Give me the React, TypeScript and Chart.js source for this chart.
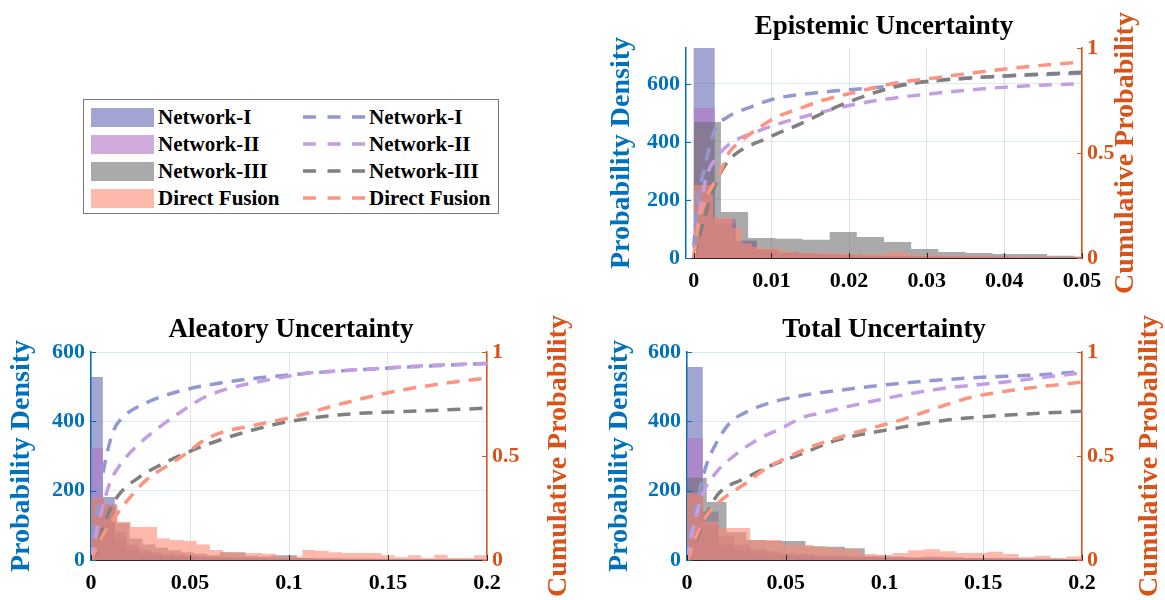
import React, { useEffect, useRef } from 'react';
import { Chart, registerables } from 'chart.js';

Chart.register(...registerables);

const SERIF = "'Liberation Serif', 'Times New Roman', Times, serif";
Chart.defaults.font.family = SERIF;
Chart.defaults.font.weight = 'bold' as any;

const AXIS_BLUE = 'rgb(0,114,189)';
const AXIS_ORANGE = 'rgb(217,83,25)';
const AXIS_BLACK = '#262626';

const seriesNames = ['Network-I', 'Network-II', 'Network-III', 'Direct Fusion'];
const histColors = [
  'rgba(100,105,180,0.6)',
  'rgba(177,117,197,0.6)',
  'rgba(113,113,113,0.6)',
  'rgba(255,138,117,0.6)',
];
const cdfColors = ['rgb(146,153,210)', 'rgb(196,158,226)', 'rgb(128,128,128)', 'rgb(252,148,128)'];

// ---------- Epistemic uncertainty ----------
const epiBinWidths = [0.0027, 0.0027, 0.0035, 0.00125];
const epiCountsN1 = [900, 120, 60, 28, 18, 14, 12, 10, 8, 7, 6, 5, 5, 4, 4, 3, 3, 2, 2];
const epiCountsN2 = [517, 135, 55, 30, 20, 16, 13, 11, 9, 8, 7, 6, 5, 5, 4, 3, 3, 2, 2];
const epiCountsN3 = [469, 159, 69, 66, 63, 90, 72, 55, 31, 21, 17, 14, 14, 8, 5];
const epiCountsDF = [252, 252, 138, 138, 103, 50, 38, 34, 32, 24, 20, 18, 17, 18, 16, 15, 14, 13, 14, 15, 21, 21, 12, 10, 10, 9, 8, 8, 7, 6, 6, 5, 5, 5, 4, 4, 4, 3, 3, 3];

const epiCdfXN1 = [0, 0.0004, 0.0014, 0.0027, 0.0043, 0.0074, 0.0106, 0.0166, 0.023, 0.03, 0.0368, 0.05];
const epiCdfYN1 = [0.05, 0.24, 0.43, 0.61, 0.67, 0.72, 0.76, 0.79, 0.81, 0.84, 0.86, 0.88];
const epiCdfXN2 = [0, 0.0003, 0.0015, 0.003, 0.0045, 0.008, 0.011, 0.0165, 0.0205, 0.0255, 0.03, 0.037, 0.043, 0.05];
const epiCdfYN2 = [0, 0.1, 0.37, 0.48, 0.54, 0.6, 0.64, 0.695, 0.73, 0.76, 0.78, 0.805, 0.82, 0.83];
const epiCdfXN3 = [0, 0.001, 0.002, 0.003, 0.004, 0.0052, 0.0094, 0.0138, 0.0178, 0.0219, 0.026, 0.03, 0.0368, 0.05];
const epiCdfYN3 = [0, 0.14, 0.27, 0.37, 0.44, 0.49, 0.57, 0.64, 0.71, 0.77, 0.815, 0.84, 0.86, 0.885];
const epiCdfXDF = [0, 0.00065, 0.0019, 0.0032, 0.0045, 0.0062, 0.0084, 0.0106, 0.0135, 0.0165, 0.0209, 0.0255, 0.0316, 0.039, 0.0488, 0.05];
const epiCdfYDF = [0, 0.17, 0.31, 0.39, 0.5, 0.56, 0.62, 0.67, 0.71, 0.75, 0.79, 0.83, 0.86, 0.895, 0.93, 0.932];

const epiXTicks = [0, 0.01, 0.02, 0.03, 0.04, 0.05];
const epiXTickLabels = ['0', '0.01', '0.02', '0.03', '0.04', '0.05'];

// ---------- Aleatory uncertainty ----------
const aleBinWidths = [0.006, 0.006, 0.0065, 0.00667];
const aleCountsN1 = [528, 182, 60, 30, 20, 15, 12, 10, 9, 8, 7, 6, 6, 5, 5, 5, 4, 4, 4, 3, 3, 3, 3, 3, 2, 2, 2, 2, 2, 2, 2, 2, 2, 2];
const aleCountsN2 = [323, 150, 80, 45, 30, 22, 18, 15, 12, 10, 9, 8, 7, 6, 6, 5, 5, 5, 4, 4, 4, 3, 3, 3, 3, 3, 2, 2, 2, 2, 2, 2, 2, 2];
const aleCountsN3 = [175, 160, 107, 62, 45, 35, 28, 22, 18, 14, 22, 22, 12, 10, 14, 14, 6, 5, 5, 5, 4, 4, 4, 3, 3, 3, 3, 2, 2, 2, 2];
const aleCountsDF = [178, 160, 110, 95, 95, 62, 58, 55, 45, 29, 22, 20, 20, 18, 10, 10, 29, 27, 22, 20, 20, 20, 14, 8, 14, 6, 15, 6, 6, 14];

const aleCdfXN1 = [0, 0.0015, 0.0055, 0.008, 0.0115, 0.0165, 0.0277, 0.044, 0.0645, 0.1, 0.145, 0.2];
const aleCdfYN1 = [0, 0.13, 0.385, 0.51, 0.625, 0.69, 0.755, 0.81, 0.85, 0.89, 0.92, 0.945];
const aleCdfXN2 = [0, 0.002, 0.0055, 0.0095, 0.0165, 0.0245, 0.0347, 0.0466, 0.0568, 0.068, 0.0947, 0.111, 0.136, 0.17, 0.2];
const aleCdfYN2 = [0, 0.1, 0.24, 0.37, 0.48, 0.56, 0.64, 0.72, 0.78, 0.82, 0.875, 0.9, 0.915, 0.935, 0.945];
const aleCdfXN3 = [0, 0.003, 0.006, 0.01, 0.0146, 0.0247, 0.0347, 0.0468, 0.06, 0.078, 0.0997, 0.128, 0.162, 0.2];
const aleCdfYN3 = [0, 0.05, 0.15, 0.25, 0.32, 0.4, 0.455, 0.51, 0.56, 0.615, 0.665, 0.7, 0.715, 0.73];
const aleCdfXDF = [0, 0.0015, 0.006, 0.013, 0.0196, 0.028, 0.038, 0.047, 0.057, 0.065, 0.081, 0.103, 0.128, 0.153, 0.179, 0.2];
const aleCdfYDF = [0, 0.03, 0.12, 0.22, 0.3, 0.385, 0.45, 0.505, 0.575, 0.61, 0.645, 0.69, 0.755, 0.81, 0.85, 0.875];

// ---------- Total uncertainty ----------
const totBinWidths = [0.008, 0.008, 0.01, 0.008];
const totCountsN1 = [557, 100, 45, 28, 20, 16, 13, 11, 10, 9, 8, 7, 7, 6, 6, 5, 5, 5, 4, 4, 4, 3, 3, 3, 3];
const totCountsN2 = [352, 140, 70, 45, 32, 25, 20, 17, 14, 12, 10, 9, 8, 7, 6, 6, 5, 5, 5, 4, 4, 4, 3, 3, 3];
const totCountsN3 = [237, 167, 80, 58, 55, 55, 40, 38, 34, 12, 10, 8, 10, 8, 6, 6, 5, 4, 4, 3];
const totCountsDF = [193, 110, 92, 92, 58, 58, 43, 43, 38, 34, 30, 17, 15, 20, 28, 31, 25, 20, 20, 24, 17, 8, 12, 6, 10];

const totCdfXN1 = [0, 0.0015, 0.0056, 0.0096, 0.0147, 0.0218, 0.032, 0.0436, 0.055, 0.0805, 0.109, 0.143, 0.177, 0.2];
const totCdfYN1 = [0, 0.1, 0.3, 0.45, 0.56, 0.66, 0.72, 0.76, 0.785, 0.82, 0.85, 0.875, 0.89, 0.905];
const totCdfXN2 = [0, 0.003, 0.008, 0.0147, 0.025, 0.035, 0.047, 0.06, 0.067, 0.092, 0.126, 0.16, 0.2];
const totCdfYN2 = [0, 0.145, 0.32, 0.42, 0.51, 0.575, 0.63, 0.69, 0.705, 0.76, 0.82, 0.855, 0.9];
const totCdfXN3 = [0, 0.004, 0.008, 0.012, 0.016, 0.03, 0.0415, 0.058, 0.0755, 0.101, 0.134, 0.168, 0.2];
const totCdfYN3 = [0, 0.08, 0.18, 0.26, 0.32, 0.395, 0.45, 0.51, 0.575, 0.625, 0.675, 0.7, 0.715];
const totCdfXDF = [0, 0.001, 0.0045, 0.0096, 0.0177, 0.03, 0.04, 0.05, 0.063, 0.0755, 0.0957, 0.109, 0.126, 0.143, 0.168, 0.2];
const totCdfYDF = [0, 0.015, 0.11, 0.21, 0.29, 0.37, 0.44, 0.49, 0.545, 0.585, 0.64, 0.675, 0.73, 0.78, 0.82, 0.855];

const wideXTicks = [0, 0.05, 0.1, 0.15, 0.2];
const wideXTickLabels = ['0', '0.05', '0.1', '0.15', '0.2'];

const densityTicks = [0, 200, 400, 600];
const densityTickLabels = ['0', '200', '400', '600'];
const probTicks = [0, 0.5, 1];
const probTickLabels = ['0', '0.5', '1'];

const TICK_SIZE = 22;
const TITLE_SIZE = 27;
const AXIS_TITLE_SIZE = 28;

// Histogram as a filled step outline: each count holds from its left bin edge.
function stepPoints(binWidth: number, counts: number[]) {
  const pts = counts.map((c, i) => ({ x: i * binWidth, y: c }));
  pts.push({ x: counts.length * binWidth, y: 0 });
  return pts;
}

function curvePoints(xs: number[], ys: number[]) {
  return xs.map((x, i) => ({ x, y: ys[i] }));
}

// Inward MATLAB-style tick marks and an upward-reading right axis label.
const axisDecor = {
  id: 'axisDecor',
  afterDraw(chart: any, _args: any, opts: any) {
    const { ctx, chartArea: a, scales } = chart;
    const len = 5;
    ctx.save();
    ctx.lineWidth = 1;

    ctx.strokeStyle = AXIS_BLUE;
    ctx.beginPath();
    scales.y.ticks.forEach((t: any) => {
      const p = Math.round(scales.y.getPixelForValue(t.value)) + 0.5;
      ctx.moveTo(a.left, p);
      ctx.lineTo(a.left + len, p);
    });
    ctx.stroke();

    ctx.strokeStyle = AXIS_ORANGE;
    ctx.beginPath();
    scales.y1.ticks.forEach((t: any) => {
      const p = Math.round(scales.y1.getPixelForValue(t.value)) + 0.5;
      ctx.moveTo(a.right - len, p);
      ctx.lineTo(a.right, p);
    });
    ctx.stroke();

    ctx.strokeStyle = AXIS_BLACK;
    ctx.beginPath();
    scales.x.ticks.forEach((t: any) => {
      const p = Math.round(scales.x.getPixelForValue(t.value)) + 0.5;
      ctx.moveTo(p, a.bottom);
      ctx.lineTo(p, a.bottom - len);
    });
    ctx.stroke();

    ctx.translate(opts.x, (a.top + a.bottom) / 2);
    ctx.rotate(-Math.PI / 2);
    ctx.font = `bold ${AXIS_TITLE_SIZE}px ${SERIF}`;
    ctx.fillStyle = AXIS_ORANGE;
    ctx.textAlign = 'center';
    ctx.textBaseline = 'middle';
    ctx.fillText(opts.text, 0, 0);
    ctx.restore();
  },
};

type PanelProps = {
  title: string;
  box: { left: number; top: number; width: number; height: number };
  insets: { left: number; right: number; bottom: number };
  titlePad: { top: number; bottom: number };
  yTitlePad: number;
  rightTitleX: number;
  xMin: number;
  xMax: number;
  xTicks: number[];
  xTickLabels: string[];
  yMax: number;
  binWidths: number[];
  counts: number[][];
  cdfX: number[][];
  cdfY: number[][];
};

function Panel(props: PanelProps) {
  const ref = useRef<HTMLCanvasElement | null>(null);

  useEffect(() => {
    if (!ref.current) return;
    const p = props;
    const tickFont = { family: SERIF, size: TICK_SIZE, weight: 'bold' as const };

    const histSets = p.counts.map((c, k) => ({
      type: 'line' as const,
      label: seriesNames[k],
      data: stepPoints(p.binWidths[k], c),
      yAxisID: 'y',
      stepped: 'before' as const,
      fill: 'origin',
      backgroundColor: histColors[k],
      borderColor: 'rgba(0,0,0,0)',
      borderWidth: 0,
      pointRadius: 0,
      order: 10 - k,
    }));

    const cdfSets = p.cdfX.map((xs, k) => ({
      type: 'line' as const,
      label: seriesNames[k],
      data: curvePoints(xs, p.cdfY[k]),
      yAxisID: 'y1',
      fill: false,
      borderColor: cdfColors[k],
      borderWidth: 3.5,
      borderDash: [13, 9],
      borderCapStyle: 'butt' as const,
      cubicInterpolationMode: 'monotone' as const,
      pointRadius: 0,
      order: 4 - k,
    }));

    const chart = new Chart(ref.current, {
      type: 'line',
      data: { datasets: [...histSets, ...cdfSets] as any },
      options: {
        animation: false,
        responsive: false,
        devicePixelRatio: 1,
        events: [],
        layout: { padding: 0 },
        plugins: {
          legend: { display: false },
          tooltip: { enabled: false },
          title: {
            display: true,
            text: p.title,
            color: '#000',
            font: { family: SERIF, size: TITLE_SIZE, weight: 'bold' },
            padding: { top: p.titlePad.top, bottom: p.titlePad.bottom },
          },
          axisDecor: { x: p.rightTitleX, text: 'Cumulative Probability' },
        } as any,
        scales: {
          x: {
            type: 'linear',
            min: p.xMin,
            max: p.xMax,
            afterBuildTicks: (s: any) => {
              s.ticks = p.xTicks.map((v) => ({ value: v }));
            },
            afterFit: (s: any) => {
              s.height = p.insets.bottom;
            },
            ticks: {
              callback: (_v: any, i: number) => p.xTickLabels[i],
              color: '#000',
              font: tickFont,
              padding: 10,
              autoSkip: false,
              maxRotation: 0,
            },
            grid: { color: 'rgba(38,38,38,0.13)', drawTicks: false },
            border: { color: AXIS_BLACK, width: 1 },
          },
          y: {
            type: 'linear',
            position: 'left',
            min: 0,
            max: p.yMax,
            afterBuildTicks: (s: any) => {
              s.ticks = densityTicks.map((v) => ({ value: v }));
            },
            afterFit: (s: any) => {
              s.width = p.insets.left;
            },
            ticks: {
              callback: (_v: any, i: number) => densityTickLabels[i],
              color: AXIS_BLUE,
              font: tickFont,
              padding: 6,
            },
            grid: { color: 'rgba(0,114,189,0.14)', drawTicks: false },
            border: { color: AXIS_BLUE, width: 1.5 },
            title: {
              display: true,
              text: 'Probability Density',
              color: AXIS_BLUE,
              font: { family: SERIF, size: AXIS_TITLE_SIZE, weight: 'bold' },
              padding: { top: p.yTitlePad, bottom: 0 },
            },
          },
          y1: {
            type: 'linear',
            position: 'right',
            min: 0,
            max: 1,
            afterBuildTicks: (s: any) => {
              s.ticks = probTicks.map((v) => ({ value: v }));
            },
            afterFit: (s: any) => {
              s.width = p.insets.right;
            },
            ticks: {
              callback: (_v: any, i: number) => probTickLabels[i],
              color: AXIS_ORANGE,
              font: tickFont,
              padding: 5,
            },
            grid: { drawOnChartArea: false, drawTicks: false },
            border: { color: AXIS_ORANGE, width: 1.5 },
          },
        } as any,
      },
      plugins: [axisDecor as any],
    });

    return () => chart.destroy();
  }, []);

  const b = props.box;
  return (
    <div style={{ position: 'absolute', left: b.left, top: b.top, width: b.width, height: b.height }}>
      <canvas ref={ref} width={b.width} height={b.height} style={{ display: 'block' }} />
    </div>
  );
}

function Legend() {
  const rowCenter = (k: number) => 17 + 27 * k;
  const textStyle = (left: number, k: number): React.CSSProperties => ({
    position: 'absolute',
    left,
    top: rowCenter(k) - 13,
    height: 26,
    lineHeight: '26px',
    whiteSpace: 'nowrap',
  });
  return (
    <div
      style={{
        position: 'absolute',
        left: 83,
        top: 99,
        width: 414,
        height: 113,
        border: '1px solid #7a7a7a',
        background: '#fff',
        fontFamily: SERIF,
        fontWeight: 'bold',
        fontSize: 21,
        color: '#000',
      }}
    >
      {seriesNames.map((name, k) => (
        <React.Fragment key={name}>
          <div
            style={{
              position: 'absolute',
              left: 7,
              top: rowCenter(k) - 9.5,
              width: 63,
              height: 19,
              background: histColors[k],
            }}
          />
          <div style={textStyle(74, k)}>{name}</div>
          <svg
            width={62}
            height={6}
            style={{ position: 'absolute', left: 219, top: rowCenter(k) - 3 }}
          >
            <line x1={0} y1={3} x2={62} y2={3} stroke={cdfColors[k]} strokeWidth={3.5} strokeDasharray="13 11.5" />
          </svg>
          <div style={textStyle(285, k)}>{name}</div>
        </React.Fragment>
      ))}
    </div>
  );
}

export default function App() {
  return (
    <div
      style={{
        position: 'absolute',
        left: 0,
        top: 0,
        width: 1165,
        height: 600,
        background: '#fff',
        overflow: 'hidden',
      }}
    >
      <Legend />
      <Panel
        title="Epistemic Uncertainty"
        box={{ left: 603, top: 0, width: 562, height: 300 }}
        insets={{ left: 83, right: 83, bottom: 42 }}
        titlePad={{ top: 11, bottom: 4.6 }}
        yTitlePad={2}
        rightTitleX={523}
        xMin={-0.001}
        xMax={0.05}
        xTicks={epiXTicks}
        xTickLabels={epiXTickLabels}
        yMax={724}
        binWidths={epiBinWidths}
        counts={[epiCountsN1, epiCountsN2, epiCountsN3, epiCountsDF]}
        cdfX={[epiCdfXN1, epiCdfXN2, epiCdfXN3, epiCdfXDF]}
        cdfY={[epiCdfYN1, epiCdfYN2, epiCdfYN3, epiCdfYDF]}
      />
      <Panel
        title="Aleatory Uncertainty"
        box={{ left: 0, top: 300, width: 582, height: 300 }}
        insets={{ left: 91, right: 95, bottom: 40 }}
        titlePad={{ top: 13.8, bottom: 5.8 }}
        yTitlePad={5}
        rightTitleX={559}
        xMin={0}
        xMax={0.2}
        xTicks={wideXTicks}
        xTickLabels={wideXTickLabels}
        yMax={600}
        binWidths={aleBinWidths}
        counts={[aleCountsN1, aleCountsN2, aleCountsN3, aleCountsDF]}
        cdfX={[aleCdfXN1, aleCdfXN2, aleCdfXN3, aleCdfXDF]}
        cdfY={[aleCdfYN1, aleCdfYN2, aleCdfYN3, aleCdfYDF]}
      />
      <Panel
        title="Total Uncertainty"
        box={{ left: 603, top: 300, width: 562, height: 300 }}
        insets={{ left: 84, right: 83, bottom: 40 }}
        titlePad={{ top: 13.8, bottom: 5.8 }}
        yTitlePad={0}
        rightTitleX={547}
        xMin={0}
        xMax={0.2}
        xTicks={wideXTicks}
        xTickLabels={wideXTickLabels}
        yMax={600}
        binWidths={totBinWidths}
        counts={[totCountsN1, totCountsN2, totCountsN3, totCountsDF]}
        cdfX={[totCdfXN1, totCdfXN2, totCdfXN3, totCdfXDF]}
        cdfY={[totCdfYN1, totCdfYN2, totCdfYN3, totCdfYDF]}
      />
    </div>
  );
}
